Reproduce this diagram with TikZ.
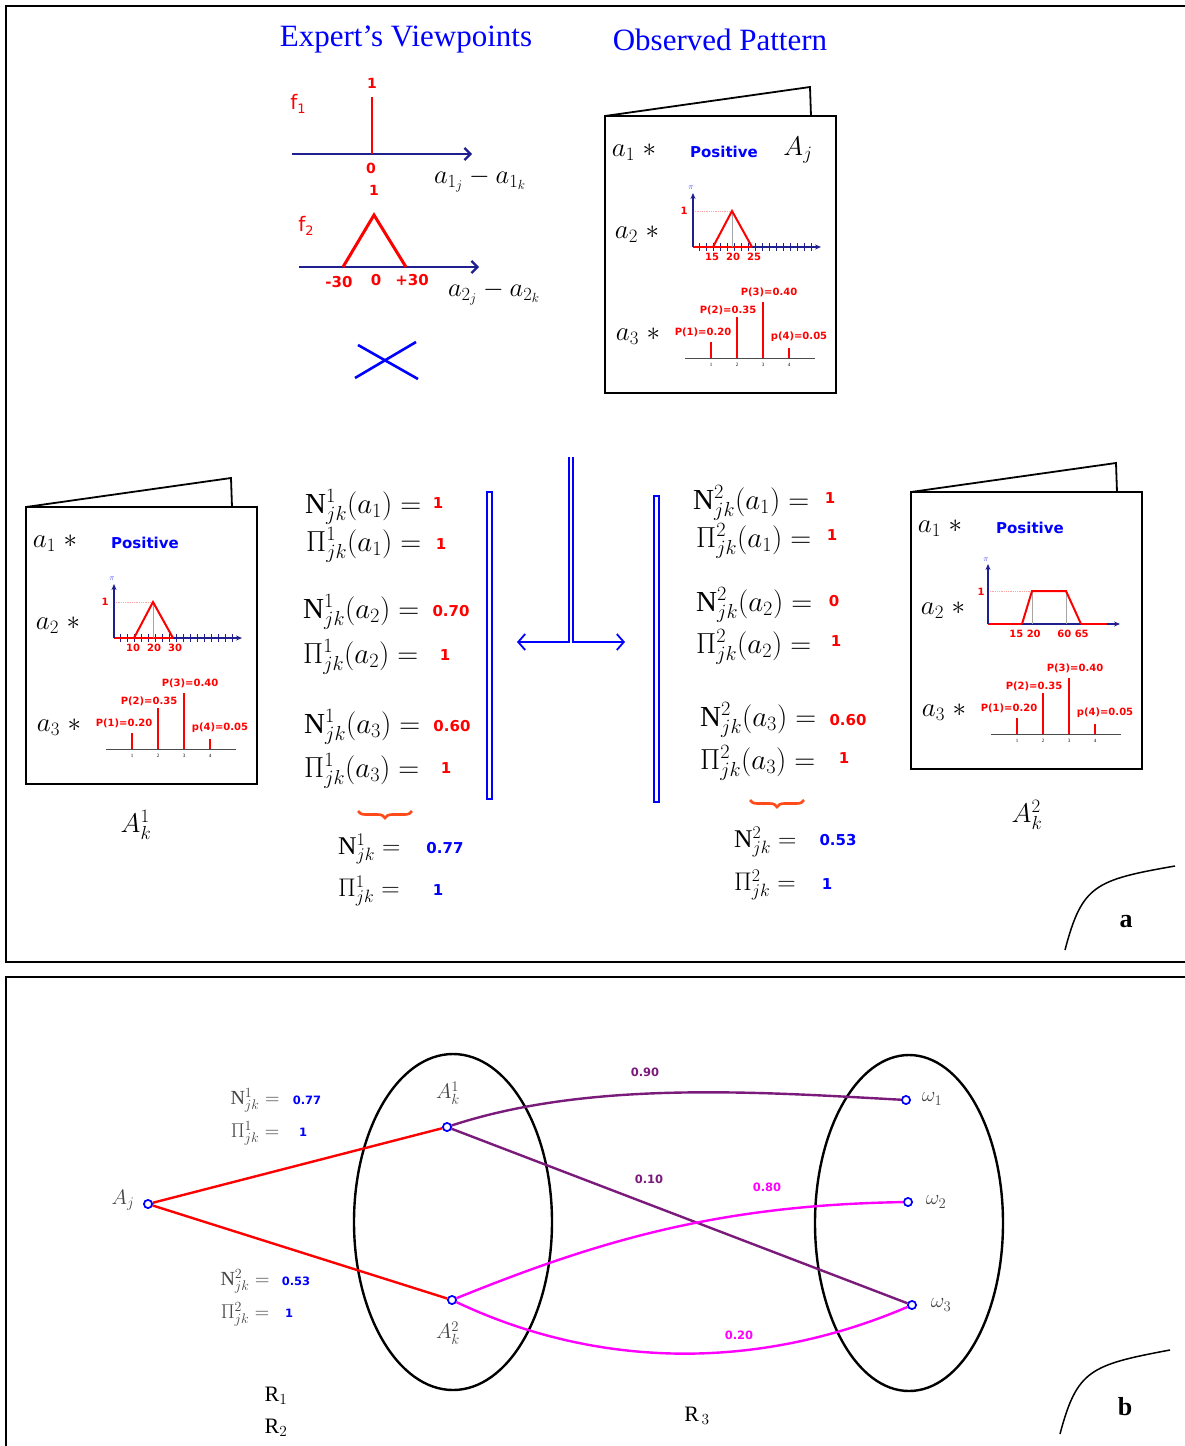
\RequirePackage{fix-cm}
\documentclass[tikz,border=0pt]{standalone}
\usepackage{fontspec}
\setmainfont{Liberation Serif}
\newfontfamily\dvs{DejaVu Sans}
\usetikzlibrary{arrows.meta,decorations.pathreplacing}
\definecolor{navy}{HTML}{1F1F8F}
\definecolor{pur}{HTML}{7A1A7A}
\definecolor{mag}{HTML}{FF00FF}
\definecolor{bor}{HTML}{FF4A1A}
\definecolor{gtxt}{HTML}{454545}
\tikzset{
  frame/.style={line width=2.2pt,black},
  cardline/.style={line width=1.8pt,black},
  cmath/.style={font=\fontsize{27}{30}\selectfont,inner sep=0pt},
  posi/.style={font=\dvs\bfseries\fontsize{15}{18}\selectfont,text=blue,inner sep=0pt},
  plbl/.style={font=\dvs\bfseries\fontsize{10}{12}\selectfont,text=red,inner sep=0pt},
  ticklbl/.style={font=\fontsize{5}{6}\selectfont,inner sep=0pt},
  eqn/.style={font=\fontsize{29}{32}\selectfont,inner sep=0pt,anchor=west},
  seq/.style={eqn,font=\fontsize{25.5}{28}\selectfont},
  val/.style={font=\dvs\bfseries\fontsize{15}{18}\selectfont,text=red,inner sep=0pt},
  bval/.style={val,text=blue},
  sval/.style={font=\dvs\bfseries\fontsize{11.5}{14}\selectfont,text=blue,inner sep=0pt},
  seqn/.style={font=\fontsize{20}{22}\selectfont,text=gtxt,inner sep=0pt},
  gmath/.style={font=\fontsize{21}{24}\selectfont,text=gtxt,inner sep=0pt},
  wlbl/.style={font=\dvs\bfseries\fontsize{11.5}{14}\selectfont,inner sep=0pt},
  pt/.style={circle,draw=blue,fill=white,line width=1.6pt,inner sep=0pt,minimum size=8pt},
  title/.style={font=\fontsize{31}{36}\selectfont,text=blue,inner sep=0pt},
  axis/.style={navy,line width=2.2pt,-{Straight Barb[length=6pt,width=12pt]}},
  saxis/.style={navy,line width=1.3pt,-{Stealth[length=6pt,width=5pt]}},
  redlbl/.style={font=\dvs\bfseries\fontsize{15}{18}\selectfont,text=red,inner sep=0pt},
  rbrace/.style={decorate,decoration={brace,amplitude=7pt,mirror},bor,line width=2.6pt},
  tarrow/.style={blue,line width=1.8pt,-{Straight Barb[length=7pt,width=16pt]}},
}
\newcommand\cardbody{%
  \draw[cardline] (0,0) rectangle (231,277);
  \draw[cardline] (0,0) -- (205,-29) -- (206,0);
  \node[cmath] (a1) at (29,36) {$a_1\;{\ast}$};
  \node[posi] (pos) at (119,36) {Positive};
  \node[cmath] (a2) at (32,118) {$a_2\;{\ast}$};
  \node[cmath] (a3) at (33,220) {$a_3\;{\ast}$};
  \draw[gray!60!black,line width=1pt] (80,242) -- (210,242);
  \foreach \x/\t [count=\i] in {106/226,132/201,158/186,184/232}{
    \draw[red,line width=1.7pt] (\x,242) -- (\x,\t);
    \node[ticklbl] (t\i) at (\x,249) {\i};
  }
  \node[plbl] (p1) at (98,216) {P(1)=0.20};
  \node[plbl] (p2) at (123,194) {P(2)=0.35};
  \node[plbl] (p3) at (164,176) {P(3)=0.40};
  \node[plbl] (p4) at (194,221) {p(4)=0.05};
}
\newcommand\trichart[3]{%
  \draw[red!35,densely dotted,line width=0.8pt] (88,95) -- (127,95);
  \draw[saxis] (88,131) -- (216,131);
  \foreach \x in {94,101,...,210} \draw[navy,line width=0.9pt] (\x,127) -- (\x,135);
  \draw[red,line width=1.6pt] (88,131) -- (147,131);
  \draw[gray!70,line width=0.8pt] (127,95) -- (127,131);
  \draw[red,line width=2pt] (108,131) -- (127,95) -- (147,131);
  \draw[saxis] (88,131) -- (88,77);
  \node[font=\fontsize{8}{9}\selectfont,text=blue!70,inner sep=0pt] (pi) at (86,72) {$\pi$};
  \node[plbl] (one) at (79,95) {1};
  \node[plbl] (x1) at (107,141) {#1};
  \node[plbl] (x2) at (128,141) {#2};
  \node[plbl] (x3) at (149,141) {#3};
}
\begin{document}
\begin{tikzpicture}[x=1pt,y=-1pt]
\useasboundingbox (0,0) rectangle (1185,1446);
\fill[white] (0,0) rectangle (1185,1446);
% frames
\draw[frame] (6,6) rectangle (1200,962);
\draw[frame] (6,977) rectangle (1200,1470);
% titles
\node[title] (t1) at (406,39) {Expert’s Viewpoints};
\node[title] (t2) at (720,40) {Observed Pattern};
% f1
\node[red,font=\dvs\fontsize{20}{24}\selectfont,inner sep=0pt] (f1) at (298,104) {f\raisebox{-4pt}{\fontsize{13}{14}\selectfont 1}};
\draw[axis] (292,154) -- (472,154);
\draw[red,line width=2.6pt] (372,97) -- (372,154);
\node[redlbl,font=\dvs\bfseries\fontsize{14}{16}\selectfont] (f1one) at (372,83) {1};
\node[redlbl,font=\dvs\bfseries\fontsize{14}{16}\selectfont] (f1zero) at (371,168) {0};
\node[font=\fontsize{26.5}{30}\selectfont,inner sep=0pt] (d1) at (480,180) {$a_{1_j}-a_{1_k}$};
% f2
\node[red,font=\dvs\fontsize{20}{24}\selectfont,inner sep=0pt] (f2) at (306,226) {f\raisebox{-4pt}{\fontsize{13}{14}\selectfont 2}};
\node[redlbl,font=\dvs\bfseries\fontsize{14}{16}\selectfont] (f2one) at (374,190) {1};
\draw[axis] (299,267) -- (479,267);
\draw[red,line width=3pt] (343,267) -- (374,215) -- (406,267);
\node[redlbl] (m30) at (339,282) {-30};
\node[redlbl] (z30) at (376,280) {0};
\node[redlbl] (p30) at (412,280) {+30};
\node[font=\fontsize{26.5}{30}\selectfont,inner sep=0pt] (d2) at (494,293) {$a_{2_j}-a_{2_k}$};
% cross
\coordinate (c1) at (355,378); \coordinate (c2) at (416,342);
\coordinate (c3) at (358,345); \coordinate (c4) at (418,379);
\draw[blue,line width=2.6pt] (c1) -- (c2);
\draw[blue,line width=2.6pt] (c3) -- (c4);
% observed card
\begin{scope}[shift={(605,116)},name prefix=obs-]
  \cardbody
  \node[cmath] (aj) at (193,34) {$A_j$};
  \trichart{15}{20}{25}
\end{scope}
% left card
\begin{scope}[shift={(26,507)},name prefix=lc-]
  \cardbody
  \trichart{10}{20}{30}
\end{scope}
\node[cmath] (ak1) at (136,825) {$A_k^1$};
% right card
\begin{scope}[shift={(911,492)},name prefix=rc-]
  \cardbody
  \draw[red!35,densely dotted,line width=0.8pt] (77,99) -- (121,99);
  \draw[saxis] (77,132) -- (209,132);
  \draw[red,line width=1.6pt] (77,132) -- (111,132);
  \draw[red,line width=1.6pt] (170,132) -- (196,132);
  \draw[gray!70,line width=0.8pt] (121,99) -- (121,132);
  \draw[gray!70,line width=0.8pt] (155,99) -- (155,132);
  \draw[red,line width=2pt] (111,132) -- (121,99) -- (155,99) -- (170,132);
  \draw[saxis] (77,132) -- (77,72);
  \node[font=\fontsize{8}{9}\selectfont,text=blue!70,inner sep=0pt] (pi) at (75,68) {$\pi$};
  \node[plbl] (one) at (70,100) {1};
  \node[plbl] (x1) at (114,142) {15 20};
  \node[plbl] (x2) at (162,142) {60 65};
\end{scope}
\node[cmath] (ak2) at (1027,815) {$A_k^2$};
% left equations
\node[eqn] (l1) at (305,507) {$\mathrm{N}^1_{jk}(a_1) =$};
\node[val] (lv1) at (438,503) {1};
\node[eqn] (l2) at (306,545) {$\Pi^1_{jk}(a_1) =$};
\node[val] (lv2) at (441,544) {1};
\node[eqn] (l3) at (303,612) {$\mathrm{N}^1_{jk}(a_2) =$};
\node[val] (lv3) at (451,611) {0.70};
\node[eqn] (l4) at (303,657) {$\Pi^1_{jk}(a_2) =$};
\node[val] (lv4) at (445,655) {1};
\node[eqn] (l5) at (304,727) {$\mathrm{N}^1_{jk}(a_3) =$};
\node[val] (lv5) at (452,726) {0.60};
\node[eqn] (l6) at (304,771) {$\Pi^1_{jk}(a_3) =$};
\node[val] (lv6) at (446,768) {1};
\draw[blue,line width=1.8pt] (487,492) rectangle (492,799);
\draw[rbrace] (358,811) -- (412,811);
\node[seq] (ls1) at (338,849) {$\mathrm{N}^1_{jk} =$};
\node[bval] (lsv1) at (445,848) {0.77};
\node[seq] (ls2) at (338,891) {$\Pi^1_{jk} =$};
\node[bval] (lsv2) at (438,890) {1};
% central T
\coordinate (tl) at (569,457); \coordinate (tr) at (573,457);
\coordinate (tla) at (517,642); \coordinate (tra) at (625,642);
\draw[tarrow] (tl) -- (569,642) -- (tla);
\draw[tarrow] (tr) -- (573,642) -- (tra);
% right equations
\node[eqn] (r1) at (693,503) {$\mathrm{N}^2_{jk}(a_1) =$};
\node[val] (rv1) at (830,498) {1};
\node[eqn] (r2) at (696,541) {$\Pi^2_{jk}(a_1) =$};
\node[val] (rv2) at (832,535) {1};
\node[eqn] (r3) at (696,605) {$\mathrm{N}^2_{jk}(a_2) =$};
\node[val] (rv3) at (834,601) {0};
\node[eqn] (r4) at (696,647) {$\Pi^2_{jk}(a_2) =$};
\node[val] (rv4) at (836,641) {1};
\node[eqn] (r5) at (700,720) {$\mathrm{N}^2_{jk}(a_3) =$};
\node[val] (rv5) at (848,720) {0.60};
\node[eqn] (r6) at (700,763) {$\Pi^2_{jk}(a_3) =$};
\node[val] (rv6) at (844,758) {1};
\draw[blue,line width=1.8pt] (654,496) rectangle (659,802);
\draw[rbrace] (750,800) -- (804,800);
\node[seq] (rs1) at (734,842) {$\mathrm{N}^2_{jk} =$};
\node[bval] (rsv1) at (838,840) {0.53};
\node[seq] (rs2) at (734,885) {$\Pi^2_{jk} =$};
\node[bval] (rsv2) at (827,884) {1};
% corner a
\draw[line width=1.5pt] (1065,950) .. controls (1082,885) and (1095,880) .. (1175,866);
\node[font=\bfseries\fontsize{26}{30}\selectfont,inner sep=0pt] (la) at (1126,922) {a};
% ===== panel b =====
\draw[line width=2.4pt] (453,1222) ellipse [x radius=99,y radius=168];
\draw[line width=2.4pt] (909,1223) ellipse [x radius=94,y radius=168];
\node[pt] (aj) at (148,1204) {};
\node[pt] (k1) at (447,1127) {};
\node[pt] (k2) at (452,1300) {};
\node[pt] (w1) at (906,1100) {};
\node[pt] (w2) at (908,1202) {};
\node[pt] (w3) at (912,1305) {};
\begin{scope}[line width=2.4pt]
\draw[red] (aj) -- (k1);
\draw[red] (aj) -- (k2);
\draw[pur] (k1) .. controls (590,1080) and (760,1092) .. (w1);
\draw[pur] (k1) -- (w3);
\draw[mag] (k2) .. controls (600,1240) and (720,1205) .. (w2);
\draw[mag] (k2) .. controls (600,1370) and (760,1370) .. (w3);
\end{scope}
\foreach \n in {aj,k1,k2,w1,w2,w3} \node[pt] at (\n) {};
\node[gmath] (ajl) at (123,1200) {$A_j$};
\node[gmath] (k1l) at (448,1093) {$A_k^1$};
\node[gmath] (k2l) at (448,1333) {$A_k^2$};
\node[gmath] (w1l) at (932,1099) {$\omega_1$};
\node[gmath] (w2l) at (936,1202) {$\omega_2$};
\node[gmath] (w3l) at (941,1305) {$\omega_3$};
\node[wlbl,text=pur] (e90) at (645,1072) {0.90};
\node[wlbl,text=pur] (e10) at (649,1179) {0.10};
\node[wlbl,text=mag] (e80) at (767,1187) {0.80};
\node[wlbl,text=mag] (e20) at (739,1335) {0.20};
\node[seqn] (bn1) at (255,1100) {$\mathrm{N}^1_{jk} =$};
\node[sval] (bn1v) at (307,1100) {0.77};
\node[seqn] (bp1) at (255,1133) {$\Pi^1_{jk} =$};
\node[sval] (bp1v) at (303,1132) {1};
\node[seqn] (bn2) at (245,1281) {$\mathrm{N}^2_{jk} =$};
\node[sval] (bn2v) at (296,1281) {0.53};
\node[seqn] (bp2) at (245,1314) {$\Pi^2_{jk} =$};
\node[sval] (bp2v) at (289,1313) {1};
\node[font=\fontsize{22}{26}\selectfont,inner sep=0pt] (r1l) at (276,1396) {R$_1$};
\node[font=\fontsize{22}{26}\selectfont,inner sep=0pt] (r2l) at (276,1428) {R$_2$};
\node[font=\fontsize{22}{26}\selectfont,inner sep=0pt] (r3l) at (697,1416) {R$_{\,3}$};
% corner b
\draw[line width=1.5pt] (1060,1434) .. controls (1077,1370) and (1090,1365) .. (1170,1350);
\node[font=\bfseries\fontsize{26}{30}\selectfont,inner sep=0pt] (lb) at (1125,1407) {b};
\end{tikzpicture}
\end{document}
